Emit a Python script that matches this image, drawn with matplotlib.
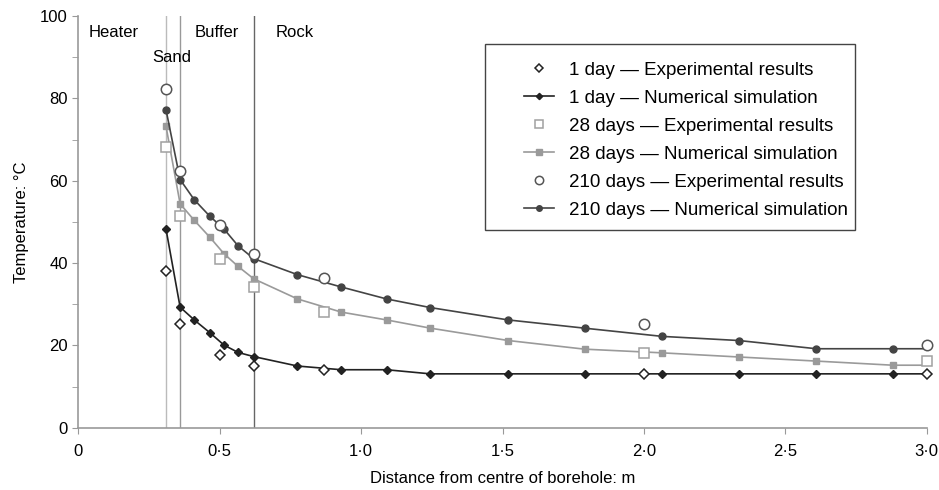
import matplotlib.pyplot as plt
from matplotlib.patches import Rectangle
from matplotlib.ticker import MultipleLocator, FuncFormatter

plt.rcParams['font.family'] = ['Liberation Sans', 'DejaVu Sans']

# distances (m) of the numerical nodes and of the sensors
x_num = [0.31, 0.36, 0.41, 0.465, 0.515, 0.565, 0.62, 0.775, 0.93, 1.09, 1.245,
         1.52, 1.79, 2.065, 2.335, 2.61, 2.88, 3.0]
x_exp = [0.31, 0.36, 0.5, 0.62, 0.87, 2.0, 3.0]

# temperatures (°C)
day1_num = [48.3, 29.3, 26.2, 23.1, 20.1, 18.3, 17.3, 15.0, 14.1, 14.1, 13.1,
            13.1, 13.1, 13.1, 13.1, 13.1, 13.1, 13.1]
day28_num = [73.3, 54.4, 50.4, 46.3, 42.3, 39.2, 36.2, 31.3, 28.1, 26.2, 24.2,
             21.2, 19.1, 18.2, 17.2, 16.2, 15.2, 15.2]
day210_num = [77.3, 60.3, 55.4, 51.4, 48.3, 44.2, 41.1, 37.2, 34.2, 31.3, 29.2,
              26.2, 24.2, 22.2, 21.2, 19.2, 19.2, 19.2]

day1_exp = [38.2, 25.2, 17.7, 15.1, 14.1, 13.1, 13.1]
day28_exp = [68.2, 51.4, 41.1, 34.3, 28.2, 18.2, 16.3]
day210_exp = [82.4, 62.3, 49.3, 42.3, 36.4, 25.2, 20.1]

# material boundaries and zone names
boundaries = [0.31, 0.36, 0.62]
zones = ['Heater', 'Sand', 'Buffer', 'Rock']
zone_pos = [(0.125, 96), (0.33, 90), (0.49, 96), (0.765, 96)]

fig = plt.figure(figsize=(9.39, 4.9), dpi=100)
ax = fig.add_axes([0.0834, 0.127, 0.9035, 0.840])

for b, c in zip(boundaries, ['#bbbbbb', '#999999', '#666666']):
    ax.axvline(b, color=c, lw=1.0, zorder=1)

for (x, y), name in zip(zone_pos, zones):
    ax.text(x, y, name, ha='center', va='center', fontsize=12)

mark = list(range(len(x_num) - 1))

ax.plot(x_exp, day1_exp, ls='none', marker='D', ms=5.5, mfc='white',
        mec='#222222', mew=1.1, label='1 day — Experimental results',
        zorder=4, clip_on=False)
ax.plot(x_num, day1_num, color='#222222', lw=1.2, marker='D', ms=4,
        markevery=mark, label='1 day — Numerical simulation', zorder=3)
ax.plot(x_exp, day28_exp, ls='none', marker='s', ms=7, mfc='white',
        mec='#a0a0a0', mew=1.1, label='28 days — Experimental results',
        zorder=4, clip_on=False)
ax.plot(x_num, day28_num, color='#9a9a9a', lw=1.2, marker='s', ms=5,
        markevery=mark, label='28 days — Numerical simulation', zorder=3)
ax.plot(x_exp, day210_exp, ls='none', marker='o', ms=7.5, mfc='white',
        mec='#555555', mew=1.1, label='210 days — Experimental results',
        zorder=4, clip_on=False)
ax.plot(x_num, day210_num, color='#444444', lw=1.2, marker='o', ms=5,
        markevery=mark, label='210 days — Numerical simulation', zorder=3)

ax.set_xlim(0, 3.0)
ax.set_ylim(0, 100)
ax.xaxis.set_major_locator(MultipleLocator(0.5))
ax.xaxis.set_major_formatter(FuncFormatter(lambda v, p: f'{v:.1f}'.replace('.', '·')
                                           if v > 0 else '0'))
ax.yaxis.set_major_locator(MultipleLocator(20))
ax.yaxis.set_minor_locator(MultipleLocator(10))

for s in ['top', 'right']:
    ax.spines[s].set_visible(False)
for s in ['left', 'bottom']:
    ax.spines[s].set_color('#999999')
    ax.spines[s].set_linewidth(1.2)
ax.tick_params(which='both', color='#999999', length=4, labelsize=12)
ax.tick_params(axis='x', pad=8)

ax.set_xlabel('Distance from centre of borehole: m', fontsize=12, labelpad=8)
ax.set_ylabel('Temperature: °C', fontsize=12, labelpad=8)

# legend without its own frame; the box is drawn separately
leg = ax.legend(loc='upper left', bbox_to_anchor=(0.5256, 0.890), borderaxespad=0,
                borderpad=0, fontsize=13.5, frameon=False, handlelength=1.6,
                handletextpad=0.8, labelspacing=0.58, markerscale=0.8)
ax.add_patch(Rectangle((0.4794, 0.48), 0.4361, 0.452, transform=ax.transAxes,
                       fill=False, ec='#444444', lw=1.0, zorder=5))

fig.savefig('out.png', dpi=100)
